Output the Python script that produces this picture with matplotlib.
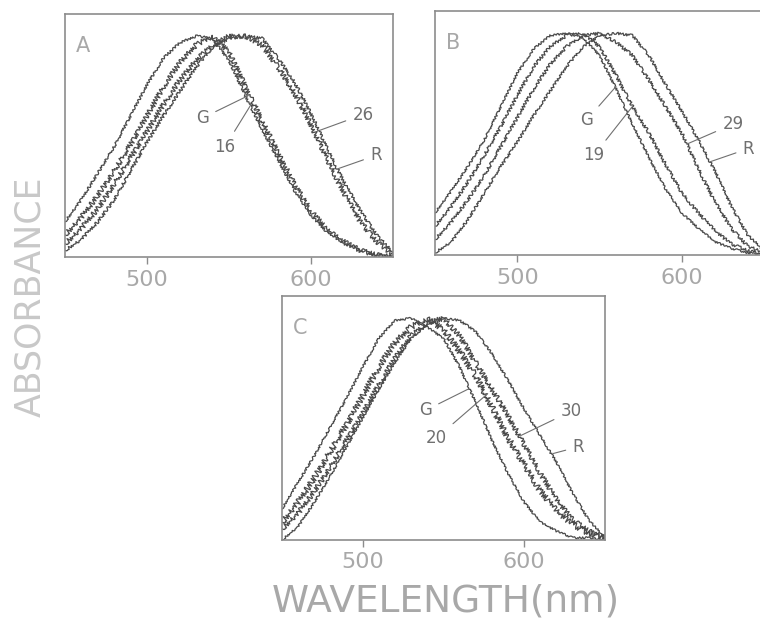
import numpy as np
import matplotlib
matplotlib.use("Agg")
import matplotlib.pyplot as plt

plt.rcParams["font.family"] = ["DejaVu Sans"]

# wavelength grid (nm) shared by all traces
wavelength = [450, 460, 470, 480, 490, 500, 510, 520, 530, 540, 550,
              560, 570, 580, 590, 600, 610, 620, 630, 640, 650]

# panel A
a_G = [.16, .26, .38, .50, .64, .78, .90, .97, 1.0, .99, .89,
       .73, .58, .44, .30, .19, .11, .06, .03, .01, 0]
a_16 = [.10, .18, .28, .39, .51, .64, .77, .88, .96, 1.0, .93,
        .77, .62, .47, .33, .21, .12, .07, .03, .01, 0]
a_26 = [.06, .13, .22, .33, .45, .57, .69, .80, .89, .96, 1.0,
        1.0, .96, .86, .74, .60, .44, .29, .16, .07, .01]
a_R = [.03, .08, .16, .26, .39, .52, .64, .75, .86, .95, .99,
       1.0, .99, .90, .79, .65, .49, .34, .21, .10, .02]

# panel B
b_G = [.19, .29, .40, .52, .67, .82, .93, .99, 1.0, .98, .90,
       .75, .59, .44, .30, .19, .12, .06, .03, .01, 0]
b_19 = [.13, .22, .33, .45, .58, .72, .85, .94, .99, 1.0, .94,
        .81, .67, .55, .41, .28, .19, .11, .05, .02, 0]
b_29 = [.07, .15, .25, .36, .49, .62, .75, .86, .94, .99, 1.0,
        .96, .90, .79, .67, .55, .39, .24, .12, .04, .01]
b_R = [.01, .06, .16, .28, .40, .51, .63, .74, .85, .94, .99,
       1.0, .99, .90, .77, .65, .52, .38, .22, .09, .02]

# panel C
c_G = [.14, .26, .38, .51, .64, .78, .91, .99, 1.0, .96, .91,
       .78, .62, .45, .30, .17, .08, .04, .01, .01, 0]
c_20 = [.08, .17, .28, .40, .52, .65, .78, .89, .96, 1.0, .95,
        .85, .74, .60, .46, .34, .22, .13, .07, .03, .01]
c_30 = [.05, .12, .22, .33, .45, .57, .70, .82, .92, .98, 1.0,
        .92, .80, .68, .56, .43, .30, .18, .09, .04, .01]
c_R = [0, .06, .17, .29, .42, .55, .68, .80, .91, .97, 1.0,
       .99, .94, .84, .72, .59, .47, .35, .21, .09, .01]

tick_values = [500, 600]

LINE = "#4a4a4a"
FRAME = "#8c8c8c"
TXT = "#a8a8a8"


def draw_panel(ax, letter, curves, labels):
    for vals, noise in curves:
        ln, = ax.plot(wavelength, vals, color=LINE, lw=0.9)
        ln.set_sketch_params(scale=noise, length=2.5, randomness=3)
    for text, xy, xytext in labels:
        ax.annotate(text, xy=xy, xytext=xytext, fontsize=12, color="#707070",
                    ha="center", va="center",
                    arrowprops=dict(arrowstyle="-", color="#707070", lw=0.8,
                                    shrinkA=3, shrinkB=0))
    ax.set_xlim(450, 650)
    ax.set_ylim(0, 1.1)
    ax.set_xticks(tick_values)
    ax.set_xticklabels([str(t) for t in tick_values])
    ax.set_yticks([])
    ax.tick_params(axis="x", direction="out", length=5, width=1, color=FRAME,
                   labelsize=16, labelcolor=TXT, pad=4)
    for s in ax.spines.values():
        s.set_color(FRAME)
        s.set_linewidth(1.2)
    ax.text(0.055, 0.87, letter, transform=ax.transAxes, fontsize=15,
            color=TXT, ha="center", va="center")


fig = plt.figure(figsize=(7.6, 6.27), dpi=100)
ax_a = fig.add_axes([0.0855, 0.590, 0.4316, 0.3876])
ax_b = fig.add_axes([0.5724, 0.5933, 0.433, 0.389])
ax_c = fig.add_axes([0.371, 0.1388, 0.425, 0.389])

draw_panel(ax_a, "A",
           [(a_G, 1.2), (a_16, 2.5), (a_26, 2.5), (a_R, 1.5)],
           [("G", (561.6, 0.73), (534, 0.63)),
            ("16", (563.4, 0.69), (547.6, 0.50)),
            ("26", (604, 0.57), (631.7, 0.645)),
            ("R", (616.5, 0.40), (639.6, 0.46))])
draw_panel(ax_b, "B",
           [(b_G, 1.0), (b_19, 1.5), (b_29, 1.5), (b_R, 1.2)],
           [("G", (560, 0.76), (542.3, 0.61)),
            ("19", (570, 0.67), (546.6, 0.45)),
            ("29", (603, 0.50), (631, 0.59)),
            ("R", (617, 0.42), (640.5, 0.48))])
draw_panel(ax_c, "C",
           [(c_G, 1.0), (c_20, 3.0), (c_30, 2.5), (c_R, 1.0)],
           [("G", (565.2, 0.68), (539, 0.585)),
            ("20", (577.4, 0.66), (545.7, 0.46)),
            ("30", (597.6, 0.47), (629, 0.58)),
            ("R", (618, 0.39), (633.5, 0.42))])

fig.text(0.040, 0.526, "ABSORBANCE", rotation=90, fontsize=25,
         color="#c8c8c8", ha="center", va="center")
fig.text(0.587, 0.040, "WAVELENGTH(nm)", fontsize=27, color=TXT,
         ha="center", va="center")

fig.savefig("out.png", dpi=100)
